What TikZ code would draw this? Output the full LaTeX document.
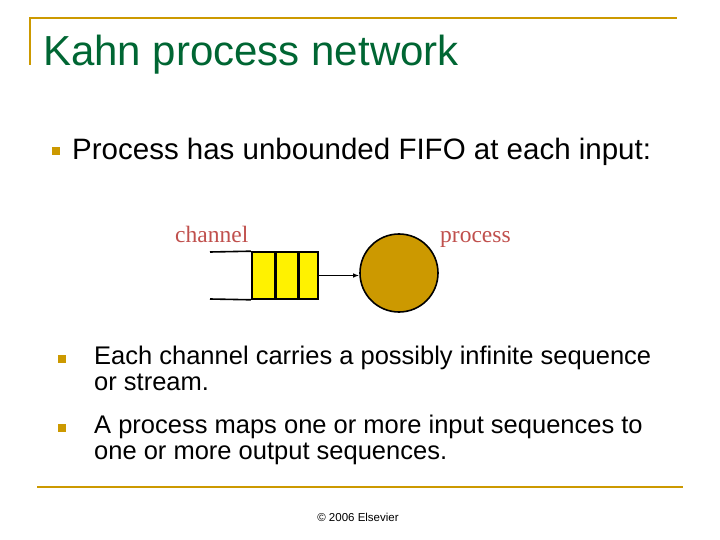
\documentclass[tikz,border=0pt]{standalone}
\usepackage{fontspec}
\setmainfont{Liberation Sans}
\newfontfamily\timesfont{Liberation Serif}
\usetikzlibrary{arrows.meta}
\definecolor{rulegold}{RGB}{204,153,0}
\definecolor{titlegreen}{RGB}{0,102,51}
\definecolor{labelred}{RGB}{192,80,77}
\definecolor{procfill}{RGB}{204,153,0}
\tikzset{
  bulletsq/.style={fill=rulegold, minimum size=8pt, inner sep=0pt},
  slot/.style={draw, line width=1.6pt, fill=yellow, minimum height=47pt, inner sep=0pt, anchor=west},
  txt/.style={anchor=base west, inner sep=0pt}
}
\begin{document}
\begin{tikzpicture}[x=1pt, y=-1pt]
    \useasboundingbox (0,0) rectangle (720,540);
    % Frame rules
    \draw[rulegold, line width=2pt] (30,65) -- (30,18) -- (677,18);
    \draw[rulegold, line width=2pt] (37,487) -- (683,487);

    % Title and heading bullet
    \node[txt, text=titlegreen, font=\fontsize{42}{44}\selectfont] (title) at (43,66) {Kahn process network};
    \node[bulletsq] (b0) at (56,151) {};
    \node[txt, font=\fontsize{29.5}{32}\selectfont] (head) at (72,160) {Process has unbounded FIFO at each input:};

    % Channel and process
    \coordinate (ctop) at (210,252);
    \coordinate (cbot) at (210,299);
    \node[slot, minimum width=23pt] (s1) at (251,275.5) {};
    \node[slot, minimum width=21.5pt] (s2) at (s1.east) {};
    \node[slot, minimum width=18.5pt] (s3) at (s2.east) {};
    \draw[line width=1.6pt] (ctop) -- (s1.north west);
    \draw[line width=1.6pt] (cbot) -- (s1.south west);
    \node[circle, draw, line width=1.6pt, fill=procfill, minimum size=78pt, inner sep=0pt] (proc) at (399,273) {};
    \draw[line width=1.2pt, -{Latex[length=6pt]}] (s3.east) -- (s3.east -| proc.west);
    \node[txt, text=labelred, font=\timesfont\fontsize{23.5}{25}\selectfont] (chl) at (175,242) {channel};
    \node[txt, text=labelred, font=\timesfont\fontsize{23.5}{25}\selectfont] (prl) at (440,242) {process};

    % Sub bullets
    \node[bulletsq] (b1) at (62,359) {};
    \node[txt, font=\fontsize{25.5}{26}\selectfont, align=left] (t1) at (94,390)
      {Each channel carries a possibly infinite sequence\\or stream.};
    \node[bulletsq] (b2) at (62,428) {};
    \node[txt, font=\fontsize{25.5}{26}\selectfont, align=left] (t2) at (94,459)
      {A process maps one or more input sequences to\\one or more output sequences.};

    % Footer
    \node[font=\fontsize{11.5}{13}\selectfont] (foot) at (358,517) {© 2006 Elsevier};
\end{tikzpicture}
\end{document}
